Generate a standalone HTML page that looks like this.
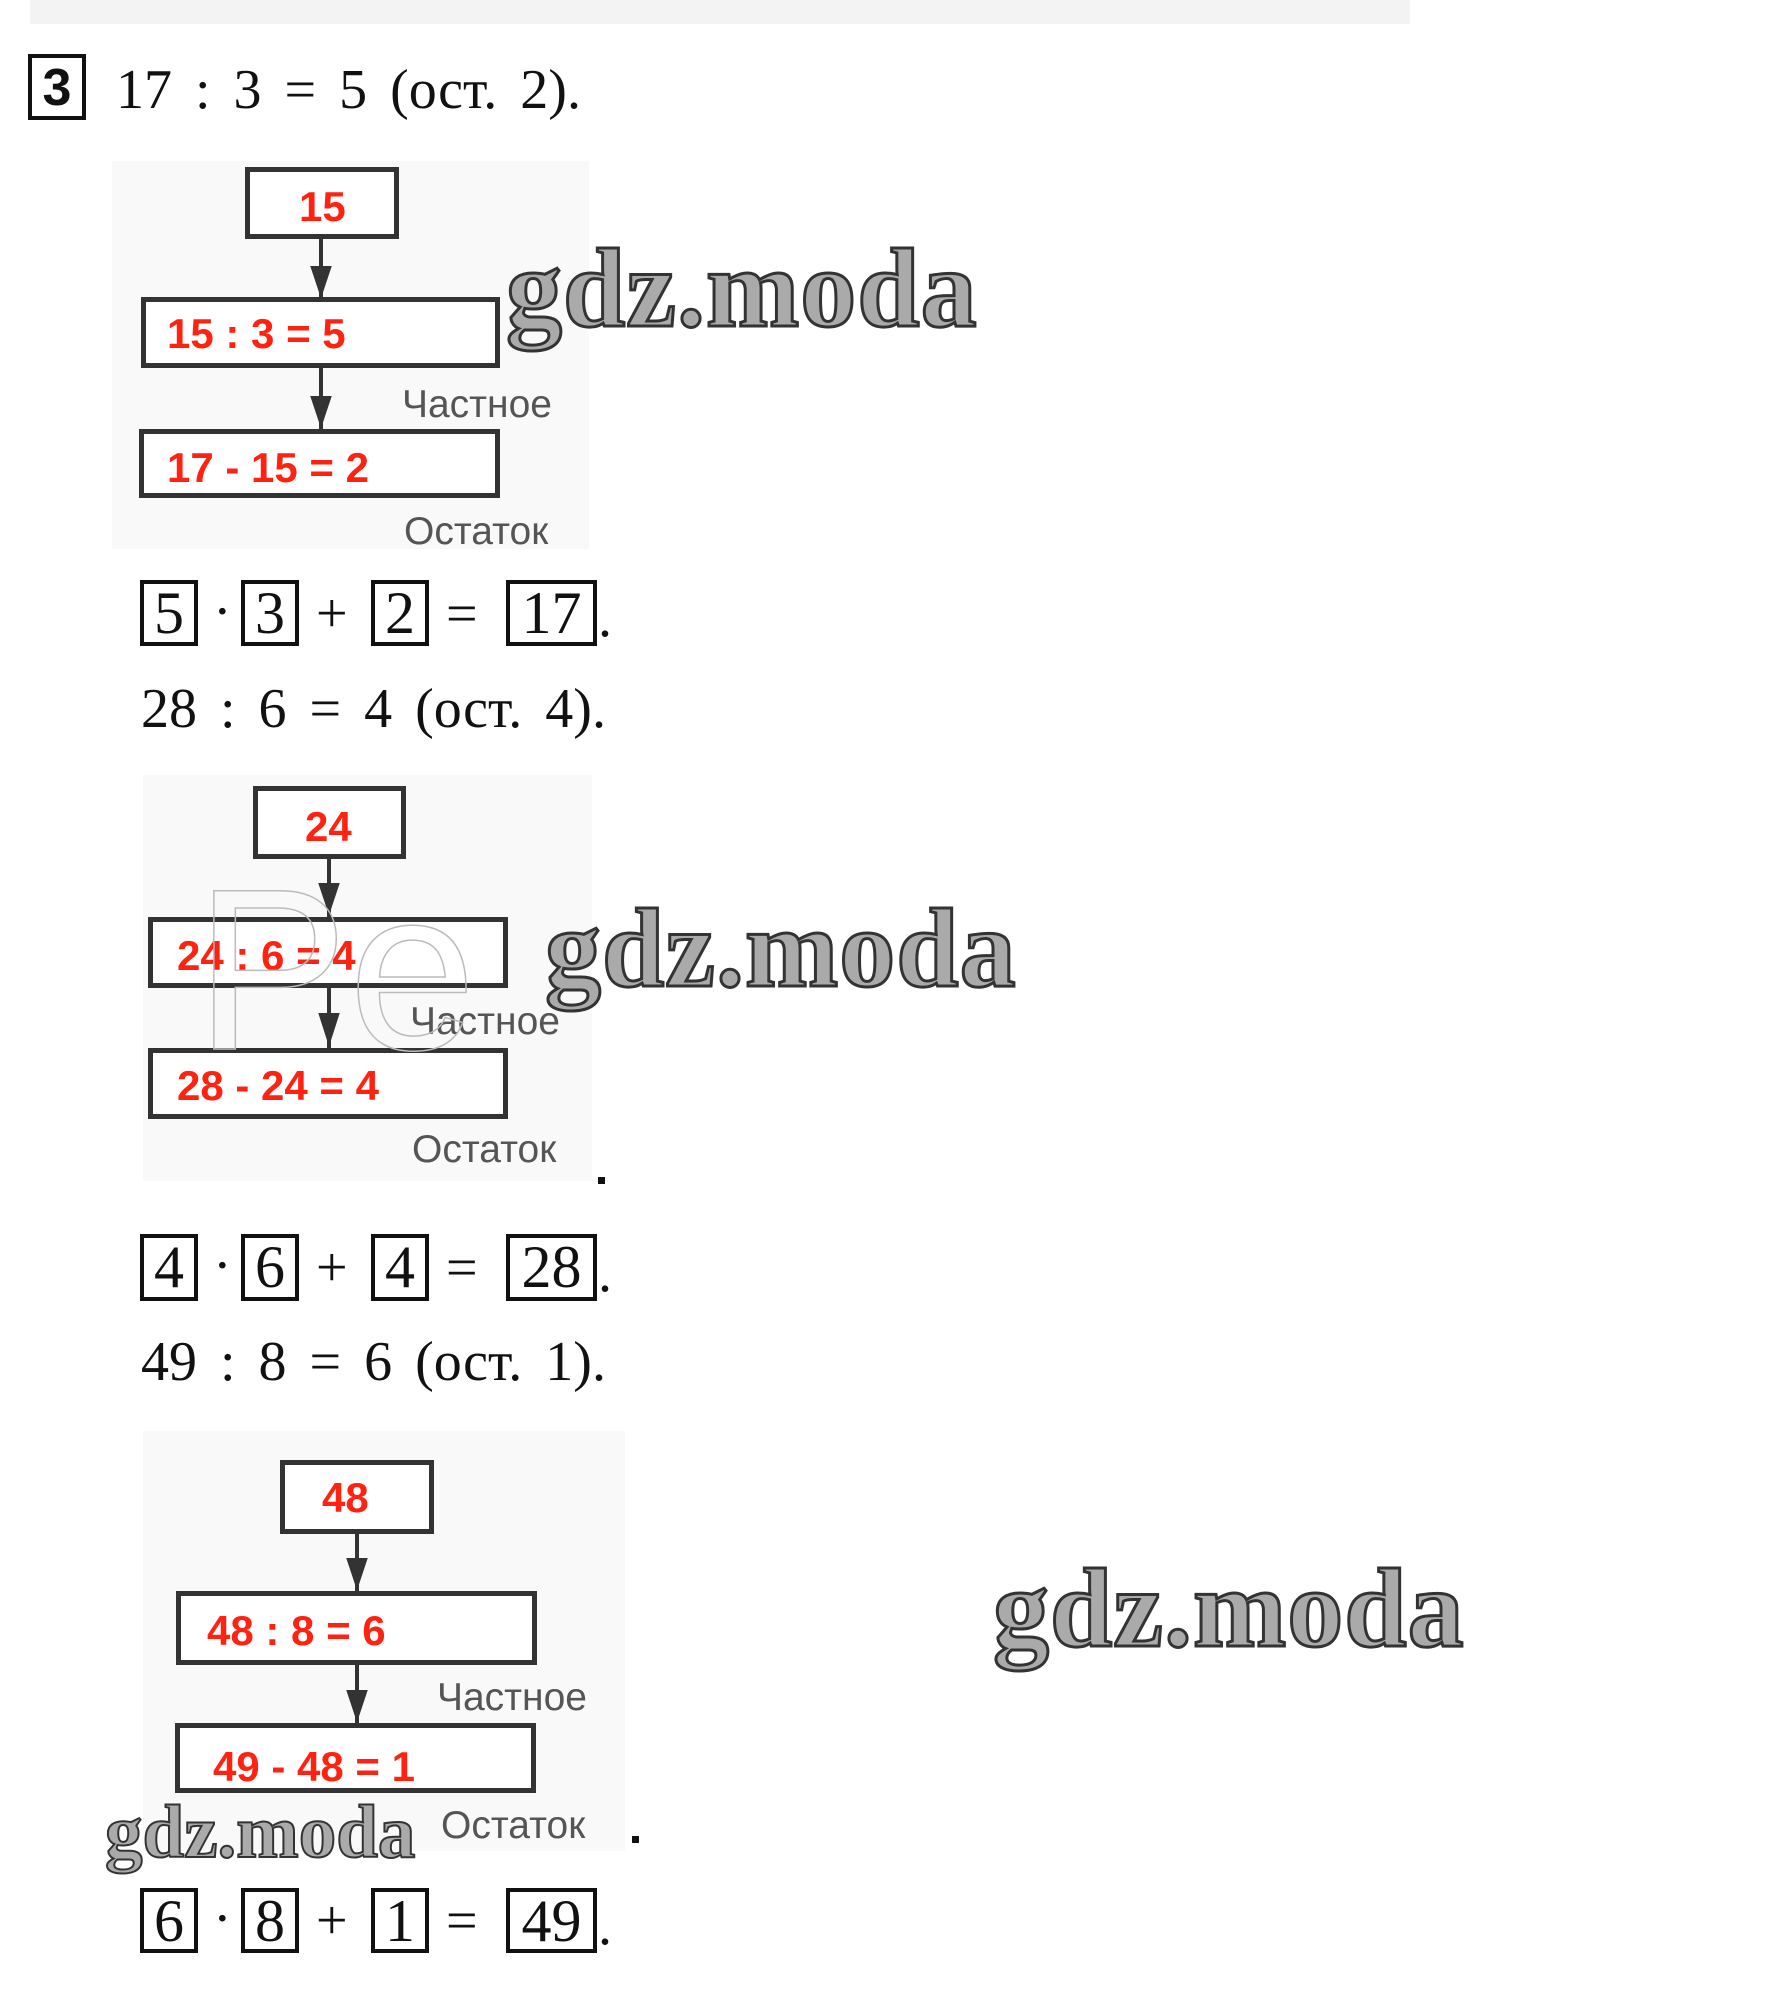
<!DOCTYPE html>
<html><head><meta charset="utf-8"><style>
html,body{margin:0;padding:0;background:#fff;}
body{width:1776px;height:2010px;position:relative;overflow:hidden;}
.a{position:absolute;white-space:nowrap;}
.ser{font-family:"Liberation Serif",serif;font-size:56px;color:#111;line-height:1;word-spacing:9px;}
.bx{position:absolute;border:5px solid #333;box-sizing:border-box;background:#fff;}
.red{position:absolute;font-family:"Liberation Sans",sans-serif;font-weight:bold;color:#f21;font-size:42px;line-height:1;white-space:nowrap;}
.lbl{position:absolute;font-family:"Liberation Sans",sans-serif;color:#555;font-size:39px;line-height:1;white-space:nowrap;}
.bg{position:absolute;background:#f9f9f9;}
.sq{position:absolute;border:4px solid #111;box-sizing:border-box;font-family:"Liberation Serif",serif;font-size:60px;line-height:58px;text-align:center;color:#111;}
.wm{position:absolute;font-family:"Liberation Serif",serif;font-weight:bold;font-size:112px;color:#aaa;-webkit-text-stroke:3px #333;letter-spacing:1px;white-space:nowrap;line-height:1;}
</style></head><body>
<div class="bg" style="left:30px;top:0;width:1380px;height:24px;background:#f3f3f3"></div>

<div class="sq" style="left:28px;top:54px;width:58px;height:66px;font-weight:bold;font-family:'Liberation Sans',sans-serif;font-size:52px;line-height:60px;">3</div>
<div class="a ser" style="left:116px;top:62px;">17 : 3 = 5 (ост. 2).</div>

<div class="bg" style="left:112px;top:161px;width:477px;height:388px"></div>
<div class="bg" style="left:143px;top:775px;width:449px;height:406px"></div>
<div class="bg" style="left:143px;top:1431px;width:482px;height:420px"></div>

<!-- diagram 1 -->
<div class="bx" style="left:245px;top:167px;width:154px;height:72px"></div>
<div class="red" style="left:299px;top:186px;">15</div>
<div class="bx" style="left:141px;top:297px;width:359px;height:71px"></div>
<div class="red" style="left:167px;top:313px;">15 : 3 = 5</div>
<div class="lbl" style="left:402px;top:385px;">Частное</div>
<div class="bx" style="left:139px;top:429px;width:361px;height:69px"></div>
<div class="red" style="left:167px;top:447px;">17 - 15 = 2</div>
<div class="lbl" style="left:404px;top:512px;">Остаток</div>

<div class="sq" style="left:140px;top:580px;width:58px;height:66px">5</div>
<div class="a ser" style="left:213px;top:584px;">·</div>
<div class="sq" style="left:241px;top:580px;width:58px;height:66px">3</div>
<div class="a ser" style="left:316px;top:586px;">+</div>
<div class="sq" style="left:371px;top:580px;width:58px;height:66px">2</div>
<div class="a ser" style="left:446px;top:586px;">=</div>
<div class="sq" style="left:506px;top:580px;width:91px;height:66px">17</div>
<div class="a ser" style="left:598px;top:590px;">.</div>

<div class="a ser" style="left:141px;top:681px;">28 : 6 = 4 (ост. 4).</div>

<!-- diagram 2 -->
<div class="bx" style="left:253px;top:786px;width:153px;height:73px"></div>
<div class="red" style="left:305px;top:806px;">24</div>
<div class="bx" style="left:148px;top:917px;width:360px;height:71px"></div>
<div class="red" style="left:177px;top:935px;">24 : 6 = 4</div>
<div class="lbl" style="left:410px;top:1002px;">Частное</div>
<div class="bx" style="left:148px;top:1048px;width:360px;height:71px"></div>
<div class="red" style="left:177px;top:1065px;">28 - 24 = 4</div>
<div class="lbl" style="left:412px;top:1130px;">Остаток</div>
<div class="a" style="left:598px;top:1177px;width:7px;height:7px;background:#111"></div>

<div class="sq" style="left:140px;top:1234px;width:58px;height:67px">4</div>
<div class="a ser" style="left:213px;top:1238px;">·</div>
<div class="sq" style="left:241px;top:1234px;width:58px;height:67px">6</div>
<div class="a ser" style="left:316px;top:1240px;">+</div>
<div class="sq" style="left:371px;top:1234px;width:58px;height:67px">4</div>
<div class="a ser" style="left:446px;top:1240px;">=</div>
<div class="sq" style="left:506px;top:1234px;width:91px;height:67px">28</div>
<div class="a ser" style="left:598px;top:1245px;">.</div>

<div class="a ser" style="left:141px;top:1334px;">49 : 8 = 6 (ост. 1).</div>

<!-- diagram 3 -->
<div class="bx" style="left:280px;top:1460px;width:154px;height:74px"></div>
<div class="red" style="left:322px;top:1477px;">48</div>
<div class="bx" style="left:176px;top:1591px;width:361px;height:74px"></div>
<div class="red" style="left:207px;top:1610px;">48 : 8 = 6</div>
<div class="lbl" style="left:437px;top:1678px;">Частное</div>
<div class="bx" style="left:175px;top:1723px;width:361px;height:70px"></div>
<div class="red" style="left:213px;top:1746px;">49 - 48 = 1</div>
<div class="lbl" style="left:441px;top:1806px;">Остаток</div>
<div class="a" style="left:632px;top:1836px;width:7px;height:7px;background:#111"></div>

<div class="sq" style="left:140px;top:1888px;width:58px;height:65px">6</div>
<div class="a ser" style="left:213px;top:1891px;">·</div>
<div class="sq" style="left:241px;top:1888px;width:58px;height:65px">8</div>
<div class="a ser" style="left:316px;top:1893px;">+</div>
<div class="sq" style="left:371px;top:1888px;width:58px;height:65px">1</div>
<div class="a ser" style="left:446px;top:1893px;">=</div>
<div class="sq" style="left:506px;top:1888px;width:91px;height:65px">49</div>
<div class="a ser" style="left:598px;top:1898px;">.</div>

<svg class="a" style="left:0;top:0" width="1776" height="2010">
<g stroke="#333" stroke-width="4" fill="#333">
<line x1="321" y1="239" x2="321" y2="297"/><polygon points="313,268 329,268 321,292"/>
<line x1="321" y1="368" x2="321" y2="429"/><polygon points="313,398 329,398 321,422"/>
<line x1="329" y1="859" x2="329" y2="917"/><polygon points="321,885 337,885 329,909"/>
<line x1="329" y1="988" x2="329" y2="1048"/><polygon points="321,1015 337,1015 329,1040"/>
<line x1="357" y1="1534" x2="357" y2="1591"/><polygon points="349,1560 365,1560 357,1584"/>
<line x1="357" y1="1665" x2="357" y2="1723"/><polygon points="349,1692 365,1692 357,1716"/>
</g></svg>

<div class="a" style="left:195px;top:855px;font-family:'Liberation Sans',sans-serif;font-size:230px;color:transparent;-webkit-text-stroke:1.5px #bbb;line-height:1;">Pe</div>

<!-- watermarks -->
<div class="wm" style="left:506px;top:233px;">gdz.moda</div>
<div class="wm" style="left:545px;top:893px;">gdz.moda</div>
<div class="wm" style="left:993px;top:1553px;">gdz.moda</div>
<div class="wm" style="left:105px;top:1795px;font-size:75px;letter-spacing:0;-webkit-text-stroke:2px #333;">gdz.moda</div>
</body></html>
